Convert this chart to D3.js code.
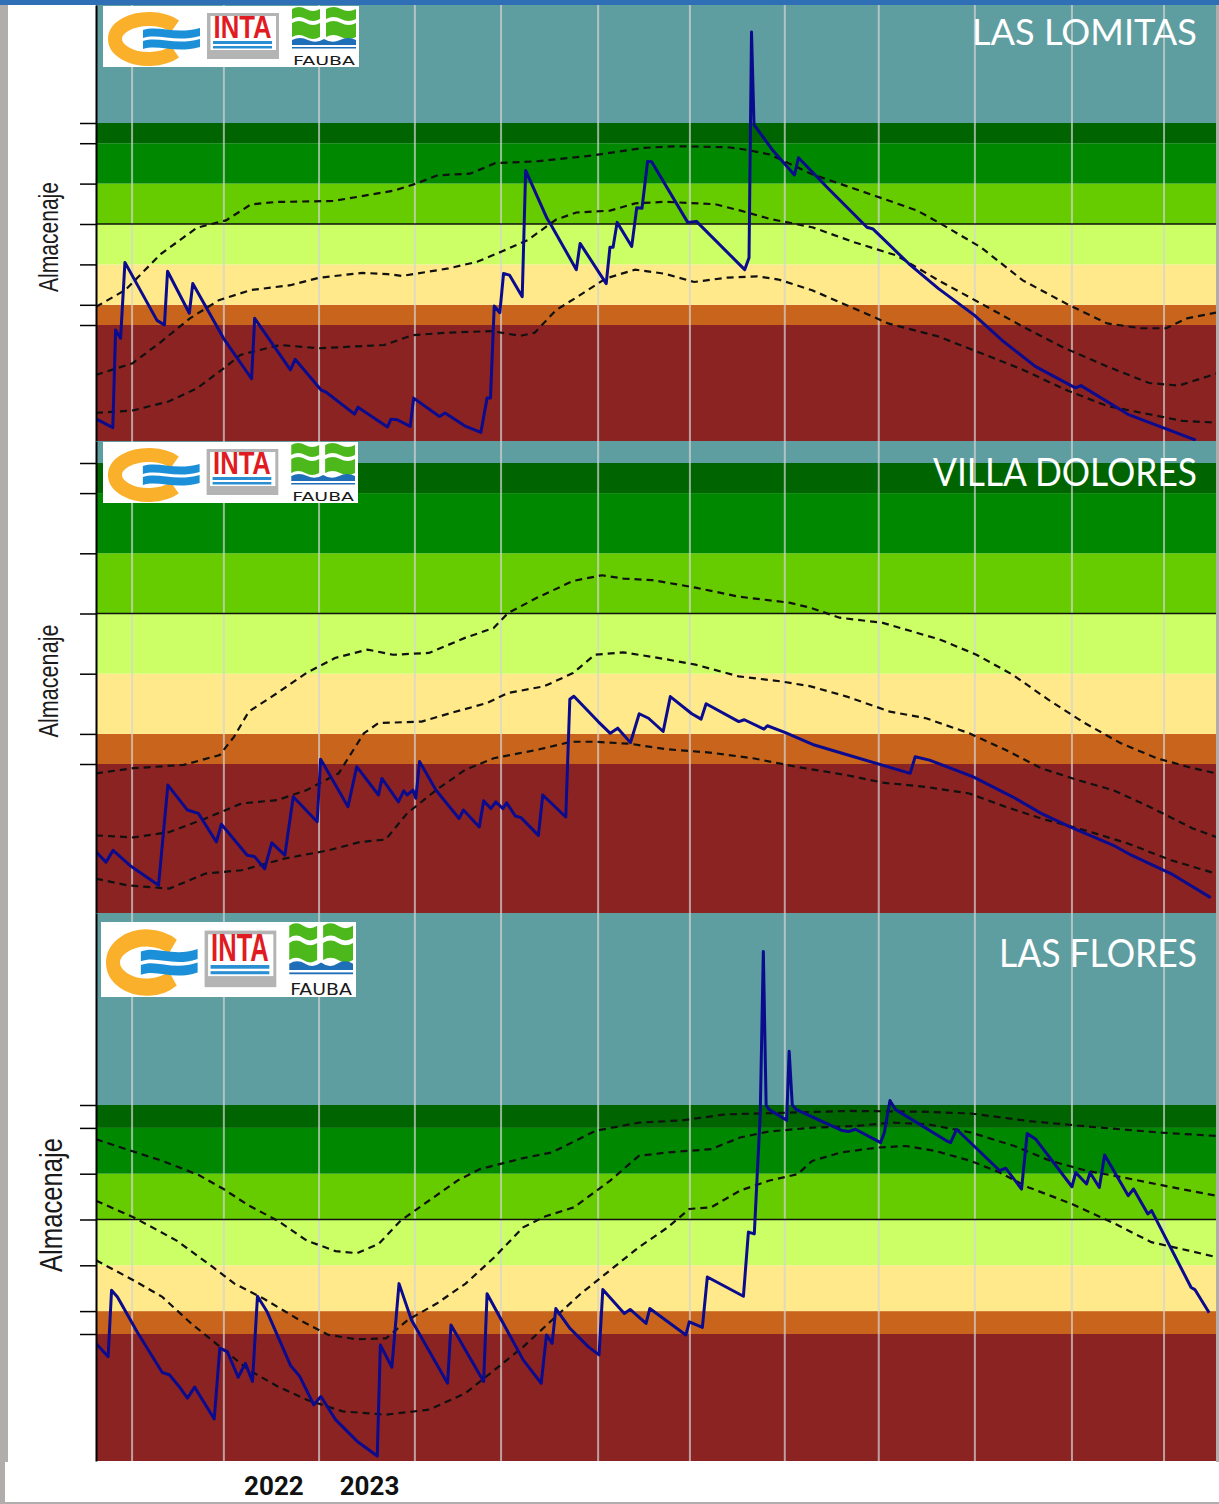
<!DOCTYPE html>
<html>
<head>
<meta charset="utf-8">
<script src="https://cdn.jsdelivr.net/npm/d3@7"></script>
<style>
  body { margin: 0; background: #fff; }
  svg { display: block; }
</style>
</head>
<body>
<div id="chart"></div>
<script>
// x values are days from the first day shown (about 20 Oct); y values are storage in
// band units: 0 = bottom of "orange", 50 = black reference line, 100 = top of dark green
const monthStarts = [11.6, 41.1, 71.7, 102.5, 130.2, 161.4, 190.9, 221.4, 251.6, 282.5, 313.7, 343.3];
const bandLimits = [0, 10, 30, 50, 70, 90, 100];
const bandColors = ['#8b2323', '#c9641d', '#ffe98a', '#ccff66', '#66cc00', '#008800', '#006400', '#5f9ea0'];
const yearLabels = ['2022', '2023'];
const yearLabelDays = [57.2, 87.9];

const lomitasStorage = [
  [0, -46.5], [5.4, -50.8], [6.3, -2.5], [7.9, -6.6], [9.3, 31], [19.6, 2.3], [22, 0], [23, 26.6],
  [30, 5.8], [31.1, 20.5], [41, -6.6], [50, -26.6], [51, 3.3], [62.5, -22.2], [64, -17], [72.3, -32.1],
  [74.1, -33.4], [83.1, -44.1], [84.2, -40.7], [93.7, -50.5], [94.8, -46.6], [96.8, -46.9], [101, -50.2],
  [102.1, -36.2], [110.4, -45.3], [112.2, -43.6], [118.5, -49.9], [123.7, -53.2], [125.7, -36.2],
  [126.8, -36.2], [128, 9.4], [129.8, 6.1], [131, 25.5], [132.9, 24.7], [137, 14], [138.1, 76.5],
  [145, 52.7], [146.5, 48.9], [154.4, 27.4], [155.6, 40.4], [164, 20.5], [165.2, 38.5], [166.2, 38.5],
  [167.5, 50.8], [172.2, 38.9], [173.8, 58], [175.5, 57.8], [177.3, 81], [178.6, 80.8], [190.2, 50.8],
  [193, 51.3], [208.5, 27.4], [209.9, 33.3], [210.7, 145], [211.5, 99.2], [217.3, 86.9], [224.5, 74.3],
  [225.8, 82.8], [235.6, 67.2], [247.8, 48.4], [249.8, 47.5], [261.3, 30.3], [270.8, 18], [282.3, 4.9],
  [291.1, -7.4], [301.9, -20.5], [314.8, -31.1], [316.6, -30], [331.7, -44.2], [353.5, -57]
];
const lomitasUpper = [
  [0, 9], [9.4, 17.3], [21, 35.4], [32.5, 48.2], [41.8, 51.8], [49.8, 59.7], [57.9, 60.9], [76.4, 61.4],
  [96, 66.6], [102.9, 70], [109.8, 74.1], [120.2, 74.9], [128.3, 80.1], [142.2, 81.1], [159.5, 83.9],
  [176, 87.7], [186.8, 88.5], [203.1, 88], [208.5, 86.9], [216.6, 84.4], [230.2, 74.6], [250.5, 63.9],
  [264, 56.6], [270.8, 50.8], [284.4, 38.5], [297.9, 22.1], [312.8, 9.8], [325, 0.8], [335.8, -1.6],
  [344, -1.6], [350.7, 3.3], [360, 6.1]
];
const lomitasMiddle = [
  [0, -24.7], [11.8, -18.9], [21, -8.2], [30.2, 3.3], [39.5, 12.3], [49.8, 17.3], [62.5, 19.7],
  [71.8, 23.4], [85.6, 25.8], [93.7, 25.2], [98.3, 24.3], [113.3, 28], [122.5, 31.3], [130.6, 36.5],
  [138.7, 42], [147.9, 52.2], [154.4, 55.7], [165.2, 56.6], [173.3, 60.2], [182.8, 61], [199, 59.8],
  [207.2, 56.6], [216.6, 52.5], [230.2, 48.4], [243.7, 41], [257.3, 34.4], [270.8, 22.1], [284.4, 10.7],
  [297.9, -0.8], [311.4, -11.5], [325, -20.5], [338.5, -28.7], [348, -30], [357.5, -25.4], [360, -24]
];
const lomitasLower = [
  [0, -43.5], [11.8, -42.3], [23.3, -37.9], [32.5, -31.3], [41.8, -20.6], [46.4, -14.8], [59.1, -9.9],
  [71.8, -11.5], [92.6, -9.9], [101.8, -5], [113.3, -3.8], [127.2, -3], [136.4, -5.4], [141, -3.8],
  [147.9, 7.4], [154.8, 14], [163.8, 23], [173.3, 27.4], [182.8, 25.4], [192.3, 21.3], [203.1, 23.5],
  [212.6, 24.1], [219.4, 22.5], [230.2, 17.2], [243.7, 8.2], [254.6, 0.8], [270.8, -5.7], [284.4, -13.9],
  [297.9, -22.1], [311.4, -31.9], [325, -40.1], [338.5, -44.2], [349.3, -47.5], [360, -48.3]
];

const doloresStorage = [
  [0, -29.2], [3.2, -32.6], [5.5, -28.7], [10.9, -33.7], [20.1, -40.3], [23.1, -7], [29.4, -15.3],
  [32.9, -16.4], [38.7, -25.9], [40.3, -20], [48.6, -30.3], [50.9, -30.7], [54.2, -34.8], [56.5, -26.2],
  [60.7, -30.3], [63.4, -10.9], [71.1, -19.2], [72.2, 1.6], [81, -14.2], [83.8, -0.9], [90.8, -10.3],
  [91.9, -4.8], [97.2, -12.6], [98.9, -8.9], [100, -10.3], [101.9, -8.7], [102.8, -11.4], [104, 0.8],
  [109.3, -8.7], [116.7, -18.1], [118.1, -15.3], [123.2, -20.9], [124.6, -12.2], [126.9, -14.8],
  [128.5, -12.6], [130.8, -14.8], [132, -12.9], [134.8, -17.3], [136.6, -17.8], [142.2, -23.7],
  [143.6, -10.3], [151, -17.6], [152.3, 21.5], [153.6, 22.5], [161.4, 14.1], [165.3, 10.2], [167.7, 11.9],
  [171.8, 7.1], [174.6, 16.7], [177.6, 15.2], [182.3, 10.8], [184.6, 22.4], [191.5, 16.7], [194.5, 14.9],
  [196.1, 20], [206.6, 14.1], [208.4, 14.7], [214.7, 11.6], [215.8, 12.7], [221.6, 10.4], [230.9, 6.3],
  [243.6, 2.4], [261.7, -3.1], [263.3, 2.4], [267.9, 1.3], [281.8, -4.2], [294.6, -10.9], [303.8, -16.4],
  [313.1, -20.9], [327, -27], [332.8, -30.3], [345.5, -36.4], [358.3, -44.4]
];
const doloresUpper = [
  [0, -3.1], [12, -1.4], [28.2, -0.3], [39.8, 3], [44.4, 9.1], [49.1, 17.4], [58.3, 23.6], [67.6, 30.2],
  [76.8, 35.2], [87.3, 38], [95.4, 36.3], [107, 36.9], [118.6, 41.9], [127.8, 45.2], [132.5, 50.2],
  [141.7, 55.2], [153.3, 60.8], [162.6, 62.7], [169.5, 61.6], [178.8, 61.1], [192.7, 58.6], [206.6, 55.6],
  [222.8, 53.6], [229.7, 51.9], [239, 48.6], [252.9, 46.9], [271.4, 41.3], [283, 36.3], [294.6, 29.7],
  [306.2, 21.3], [317.8, 13.6], [329.4, 6.9], [341, 1.9], [352.6, -1.4], [360, -3.1]
];
const doloresMiddle = [
  [0, -23.7], [12, -24.4], [23.6, -22.6], [35.2, -18.1], [46.8, -13.1], [58.3, -12], [67.6, -8.7],
  [78, -3.1], [86.1, 10.2], [90.8, 13.6], [104.7, 14.1], [113.9, 16.9], [125.5, 20.2], [132.5, 23.6],
  [144, 25.8], [153.3, 30.2], [160.3, 36.3], [169.5, 37.1], [181.1, 35.2], [192.7, 33], [206.6, 29.1],
  [220.5, 27.4], [229.7, 25.8], [241.3, 22.4], [255.2, 17.4], [266.8, 15.2], [280.7, 10.2], [292.3, 4.7],
  [303.8, -1.4], [315.4, -5.3], [327, -8.7], [338.6, -14.2], [352.5, -21.4], [360, -24.2]
];
const doloresLower = [
  [0, -38.1], [10.1, -40.3], [23.6, -41.4], [35.2, -36.4], [46.8, -35.3], [60.7, -31.4], [74.6, -28.7],
  [85, -25.9], [93.1, -25.1], [100, -16.4], [109.3, -8.7], [118.6, -2], [127.8, 1.9], [141.7, 4.7],
  [152.8, 7.4], [160.2, 7.4], [171.8, 6.7], [183.4, 4.9], [197.3, 3.8], [211.2, 1.9], [225, -0.9],
  [241.3, -3.7], [252.9, -6.2], [266.8, -7.6], [280.7, -9.8], [292.3, -14.2], [303.8, -18.1],
  [317.8, -22], [331.7, -26.4], [345.6, -32], [360, -36.4]
];

const floresStorage = [
  [0, -4.1], [3.9, -9.9], [5, 19.1], [6.9, 16.2], [13.2, 1], [21.3, -16.8], [23.6, -17.8], [27.1, -23.6],
  [29.4, -28], [31.7, -23.2], [38, -37.1], [39.8, -6.2], [42.2, -7.7], [45.7, -18.9], [48, -12.8],
  [50.3, -20.7], [51.9, 16.5], [55, 9.7], [62.6, -13.9], [65.4, -18.3], [70, -30.9], [72.3, -27.3],
  [77, -37.4], [83.9, -46.8], [90.4, -53.3], [91.4, -4.8], [95.1, -14.5], [97.4, 22], [101.4, 6.1],
  [113, -21.5], [114.1, 3.9], [124.6, -20.7], [125.7, 17.6], [137.3, -11.3], [143.1, -21.5], [144.8, -0.4],
  [146.6, -4.1], [147.8, 11.1], [152.4, 2.4], [158.2, -5.5], [161.7, -9.1], [162.9, 19.4], [169.8, 9],
  [171.7, 10.7], [176.8, 4.6], [178, 11.1], [189.6, -0.4], [190.7, 5.3], [194.9, 2.9], [196.5, 24.9],
  [208.1, 16.5], [209.7, 44.5], [211.6, 43.7], [213.5, 95.9], [214.5, 167], [215.4, 100], [216.3, 98.1],
  [222, 93.3], [222.8, 123.5], [223.8, 100], [225, 98.1], [230.2, 94.8], [239.5, 89], [241.8, 88.4],
  [244.1, 89.4], [252.2, 83.6], [253.4, 88], [255.2, 102], [256.9, 98.1], [273.1, 84.6], [274.7, 83.6],
  [276.6, 89.4], [290.5, 71.3], [292.4, 72.4], [297.5, 63.3], [299.3, 87.5], [302.1, 85], [313.7, 64.3],
  [314.9, 70.5], [318.4, 65.5], [319.5, 70.5], [322.5, 64], [324.2, 78.2], [331.8, 60.4], [333.5, 63.3],
  [338.1, 52.4], [339.3, 53.9], [352, 20.3], [353.2, 19.4], [357.8, 9.3]
];
const floresUpper = [
  [0, 85], [9.7, 80.7], [21.3, 75.6], [32.9, 69.5], [41, 63.3], [49.1, 56.1], [58.4, 49.5], [67.7, 40.8],
  [77, 36.2], [83.9, 35.3], [90.9, 39.4], [97.9, 49.5], [107.2, 58.4], [116.4, 67.2], [123.4, 72],
  [137.3, 76.8], [146.6, 79.3], [160.5, 88.7], [174.5, 92.3], [188.4, 93.3], [202.3, 95.9], [220.9, 96.6],
  [241.8, 97.4], [265, 97.1], [281.2, 96.3], [299.8, 93], [323, 90.1], [341.6, 88], [360, 86.5]
];
const floresMiddle = [
  [0, 58.2], [12, 51], [25.9, 40.8], [37.5, 29.3], [44.5, 22], [53.8, 15.5], [65.4, 6.1], [74.7, -0.4],
  [83.9, -2.3], [93.2, -1.9], [100.2, 6.1], [109.5, 13.3], [118.8, 22], [128.1, 33.6], [137.3, 46.6],
  [144.3, 51.3], [153.6, 55.3], [165.2, 66.9], [174.5, 77.8], [183.7, 79.3], [197.7, 80.7], [207, 85.8],
  [216.2, 88.4], [230.2, 90.1], [244.1, 90.8], [255.7, 92.3], [267.3, 91.6], [281.2, 88], [295.2, 82.1],
  [306.8, 75.6], [318.4, 71.3], [330, 68.4], [346.2, 64], [360, 60.4]
];
const floresLower = [
  [0, 32.2], [12, 23.5], [21.3, 16.2], [30.6, 4.6], [39.8, -5.5], [49.1, -15.7], [58.4, -22.9],
  [67.7, -28.7], [79.3, -33.8], [93.2, -35.2], [107.2, -33], [118.8, -25.8], [128.1, -15.7], [137.4, -5.5],
  [146.6, 6.1], [155.9, 17.7], [165.2, 27.8], [174.5, 37.9], [183.8, 46.6], [190.7, 54.6], [197.7, 55.3],
  [207, 62.6], [216.2, 66.9], [225.5, 69.8], [230.2, 75.6], [239.5, 79.3], [251.1, 81.4], [260.3, 82.1],
  [269.6, 80], [281.2, 75.6], [290.5, 70.5], [299.8, 64], [313.7, 56.8], [327.6, 48.1], [339.2, 40.1],
  [350.9, 36.5], [360, 33.6]
];

const WIDTH = 1219;
const HEIGHT = 1504;
const plotLeft = 96;
const plotRight = 1216;

const x = d3.scaleLinear().domain([0, 360]).range([plotLeft, plotRight]);

class StoragePanel {
  constructor({ svg, name, storage, curves, layout }) {
    this.svg = svg;
    this.name = name;
    this.storage = storage;
    this.curves = curves;
    this.layout = layout;
    this.initVis();
    this.updateVis();
  }

  initVis() {
    const { top, bottom, zero, hundred } = this.layout;
    // 0 and 100 sit on known band edges, the panel edges follow from them
    const base = d3.scaleLinear().domain([0, 100]).range([zero, hundred]);
    this.y = d3.scaleLinear()
      .domain([base.invert(bottom), base.invert(top)])
      .range([bottom, top]);

    this.g = this.svg.append('g').attr('class', 'panel');
    this.clipId = 'clip-' + this.name.toLowerCase().replace(/\s+/g, '-');
    this.g.append('defs')
      .append('clipPath')
      .attr('id', this.clipId)
      .append('rect')
      .attr('x', plotLeft)
      .attr('y', top)
      .attr('width', plotRight - plotLeft)
      .attr('height', bottom - top);
  }

  updateVis() {
    const { top, bottom } = this.layout;
    const [lo, hi] = this.y.domain();
    const edges = [lo, ...bandLimits, hi];
    const bands = bandColors.map((color, i) => ({ from: edges[i], to: edges[i + 1], color }));

    this.g.append('g')
      .selectAll('rect')
      .data(bands)
      .join('rect')
      .attr('x', plotLeft)
      .attr('width', plotRight - plotLeft)
      .attr('y', d => this.y(d.to))
      .attr('height', d => this.y(d.from) - this.y(d.to))
      .attr('fill', d => d.color);

    this.g.append('g')
      .selectAll('line')
      .data(monthStarts)
      .join('line')
      .attr('x1', d => x(d))
      .attr('x2', d => x(d))
      .attr('y1', top)
      .attr('y2', bottom)
      .attr('stroke', '#d4d4d4')
      .attr('stroke-opacity', 0.7)
      .attr('stroke-width', 2);

    this.g.append('line')
      .attr('x1', plotLeft)
      .attr('x2', plotRight)
      .attr('y1', this.y(50))
      .attr('y2', this.y(50))
      .attr('stroke', '#111')
      .attr('stroke-width', 1.6);

    const line = d3.line().x(d => x(d[0])).y(d => this.y(d[1]));
    const lines = this.g.append('g').attr('clip-path', `url(#${this.clipId})`);

    lines.selectAll('.pct')
      .data(this.curves)
      .join('path')
      .attr('class', 'pct')
      .attr('d', line)
      .attr('fill', 'none')
      .attr('stroke', '#111')
      .attr('stroke-width', 2.2)
      .attr('stroke-dasharray', '7,5');

    lines.append('path')
      .datum(this.storage)
      .attr('d', line)
      .attr('fill', 'none')
      .attr('stroke', '#0b0b8e')
      .attr('stroke-width', 3)
      .attr('stroke-linejoin', 'round');

    const axis = d3.axisLeft(this.y)
      .tickValues(bandLimits)
      .tickSize(16)
      .tickSizeOuter(0)
      .tickFormat('');
    const axisG = this.g.append('g')
      .attr('transform', `translate(${plotLeft},0)`)
      .call(axis);
    axisG.select('.domain').attr('stroke', '#000').attr('stroke-width', 2);
    axisG.selectAll('.tick line').attr('stroke', '#000').attr('stroke-width', 1.5);

    drawLogo(this.g, this.layout.logo);

    const t = this.layout.title;
    this.g.append('text')
      .attr('x', 1197)
      .attr('y', t.baseline)
      .attr('text-anchor', 'end')
      .attr('font-family', 'Lato, "Open Sans", sans-serif')
      .attr('font-size', t.size)
      .attr('fill', '#fff')
      .attr('textLength', t.length)
      .attr('lengthAdjust', 'spacingAndGlyphs')
      .text(this.name);

    const l = this.layout.label;
    this.g.append('text')
      .attr('transform', `translate(${l.x},${l.y}) rotate(-90)`)
      .attr('text-anchor', 'middle')
      .attr('font-family', '"Liberation Sans Narrow", "Liberation Sans", Arial, sans-serif')
      .attr('font-size', l.size)
      .attr('fill', '#1a1a1a')
      .attr('textLength', l.length)
      .attr('lengthAdjust', 'spacingAndGlyphs')
      .text('Almacenaje');
  }
}

function wavyBlock(x0, y0, w, h) {
  const q = w / 4;
  return `M${x0},${y0 + 2} Q${x0 + q},${y0 - 2} ${x0 + 2 * q},${y0 + 2} T${x0 + w},${y0 + 2}` +
    ` L${x0 + w},${y0 + h} Q${x0 + 3 * q},${y0 + h + 4} ${x0 + 2 * q},${y0 + h} T${x0},${y0 + h} Z`;
}

function drawLogo(parent, box) {
  const g = parent.append('g')
    .attr('transform', `translate(${box.x},${box.y}) scale(${box.w / 256},${box.h / 61})`);
  g.append('rect').attr('width', 256).attr('height', 61).attr('fill', '#fff');

  // orange ring with the blue stream
  const cx = 46, cy = 33, rx = 34, ry = 20, a = 40 * Math.PI / 180;
  const ex = cx + rx * Math.cos(a);
  g.append('path')
    .attr('d', `M${ex},${cy - ry * Math.sin(a)} A${rx},${ry} 0 1 0 ${ex},${cy + ry * Math.sin(a)}`)
    .attr('fill', 'none')
    .attr('stroke', '#fbb02b')
    .attr('stroke-width', 14);
  [0, 11].forEach(dy => {
    g.append('path')
      .attr('d', `M40,${24 + dy} C56,${19 + dy} 72,${29 + dy} 97,${22 + dy} L97,${30 + dy}` +
        ` C72,${37 + dy} 56,${27 + dy} 40,${32 + dy} Z`)
      .attr('fill', '#1b90d8');
  });

  // INTA
  g.append('rect').attr('x', 104).attr('y', 7).attr('width', 72).attr('height', 46).attr('fill', '#b4b4b4');
  g.append('rect').attr('x', 107.5).attr('y', 10).attr('width', 65.5).attr('height', 34).attr('fill', '#fff');
  g.append('text')
    .attr('x', 139.5)
    .attr('y', 32)
    .attr('text-anchor', 'middle')
    .attr('font-family', '"Liberation Sans Narrow", "Liberation Sans", Arial, sans-serif')
    .attr('font-weight', 700)
    .attr('font-size', 31)
    .attr('fill', '#e11b22')
    .attr('textLength', 58)
    .attr('lengthAdjust', 'spacingAndGlyphs')
    .text('INTA');
  g.append('rect').attr('x', 110).attr('y', 35).attr('width', 59).attr('height', 3).attr('fill', '#2a8fd2');
  g.append('rect').attr('x', 110).attr('y', 40).attr('width', 59).attr('height', 2.5).attr('fill', '#2a8fd2');

  // FAUBA
  [[189, 1, 28, 12], [223, 1, 30, 12], [189, 15, 28, 16], [223, 15, 30, 16]].forEach(([bx, by, bw, bh]) => {
    g.append('path').attr('d', wavyBlock(bx, by, bw, bh)).attr('fill', '#4cb81c');
  });
  g.append('path')
    .attr('d', 'M189,34 Q197,30 205,34 Q213,38 221,33 Q229,38 237,34 Q245,30 253,34 L253,39 L189,39 Z')
    .attr('fill', '#1f6fb8');
  g.append('rect').attr('x', 189).attr('y', 41).attr('width', 64).attr('height', 1.5).attr('fill', '#1f6fb8');
  g.append('text')
    .attr('x', 221)
    .attr('y', 59)
    .attr('text-anchor', 'middle')
    .attr('font-family', '"DejaVu Sans", sans-serif')
    .attr('font-size', 13)
    .attr('fill', '#1a1a1a')
    .attr('textLength', 62)
    .attr('lengthAdjust', 'spacingAndGlyphs')
    .text('FAUBA');
}

const svg = d3.select('#chart')
  .append('svg')
  .attr('width', WIDTH)
  .attr('height', HEIGHT);

svg.append('rect').attr('width', WIDTH).attr('height', HEIGHT).attr('fill', '#b1adad');
svg.append('rect').attr('x', 8).attr('y', 0).attr('width', plotRight - 8).attr('height', 1462).attr('fill', '#fff');
svg.append('rect').attr('x', 5).attr('y', 1462).attr('width', WIDTH - 5).attr('height', 40).attr('fill', '#fff');
svg.append('rect').attr('width', WIDTH).attr('height', 5).attr('fill', '#2f6fb6');

const panels = [
  {
    name: 'LAS LOMITAS',
    storage: lomitasStorage,
    curves: [lomitasUpper, lomitasMiddle, lomitasLower],
    layout: {
      top: 5, bottom: 441, zero: 325, hundred: 123,
      logo: { x: 103, y: 6, w: 256, h: 61 },
      title: { baseline: 45, size: 37, length: 225 },
      label: { x: 58, y: 237, size: 27, length: 110 }
    }
  },
  {
    name: 'VILLA DOLORES',
    storage: doloresStorage,
    curves: [doloresUpper, doloresMiddle, doloresLower],
    layout: {
      top: 441, bottom: 913, zero: 764, hundred: 463,
      logo: { x: 103, y: 442, w: 255, h: 61 },
      title: { baseline: 486, size: 38, length: 264 },
      label: { x: 58, y: 681, size: 27, length: 113 }
    }
  },
  {
    name: 'LAS FLORES',
    storage: floresStorage,
    curves: [floresUpper, floresMiddle, floresLower],
    layout: {
      top: 913, bottom: 1461, zero: 1334, hundred: 1105,
      logo: { x: 101, y: 922, w: 255, h: 75 },
      title: { baseline: 967, size: 39, length: 198 },
      label: { x: 62, y: 1205, size: 31, length: 134 }
    }
  }
];

panels.forEach(p => new StoragePanel({ svg, ...p }));

svg.append('g')
  .selectAll('text')
  .data(yearLabels)
  .join('text')
  .attr('x', (d, i) => x(yearLabelDays[i]))
  .attr('y', 1495)
  .attr('text-anchor', 'middle')
  .attr('font-family', 'Roboto, Inter, sans-serif')
  .attr('font-weight', 700)
  .attr('font-size', 26)
  .attr('fill', '#111')
  .text(d => d);
</script>
</body>
</html>
